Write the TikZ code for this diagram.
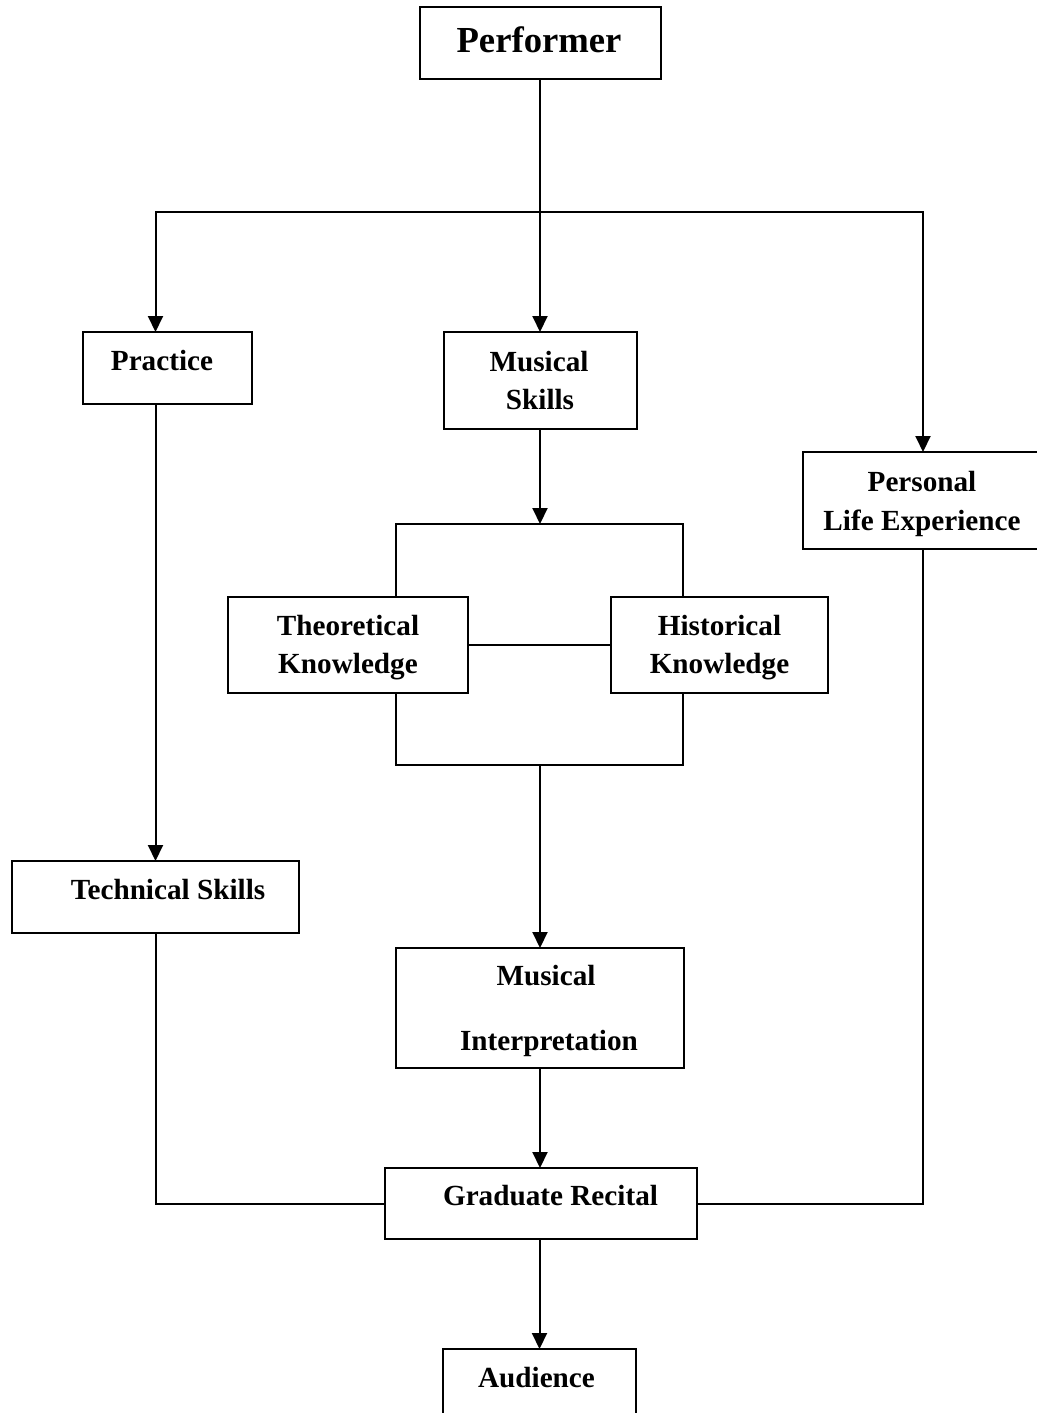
\documentclass[tikz,border=0pt]{standalone}
\usepackage{fontspec}
\setmainfont{Liberation Serif}
\usetikzlibrary{arrows.meta}
\begin{document}
\begin{tikzpicture}[x=0.75pt,y=-0.75pt,
  box/.style={draw, line width=1.5pt, inner sep=0pt, outer sep=0pt},
  lbl/.style={inner sep=0pt, anchor=base, font=\fontsize{21.9}{26}\selectfont\bfseries},
  big/.style={inner sep=0pt, anchor=base, font=\fontsize{27.5}{32}\selectfont\bfseries},
  conn/.style={line width=1.5pt},
  arr/.style={line width=1.5pt, -{Triangle[width=11.25pt,length=12pt]}}]
\useasboundingbox (0,0) rectangle (1037,1413);
\clip (0,0) rectangle (1037,1413);
\fill[white] (0,0) rectangle (1037,1413);

% boxes
\node[box, minimum width=180.75pt, minimum height=54pt] (perf) at (540,43) {};
\node[box, minimum width=126.75pt, minimum height=54pt] (prac) at (167.5,368) {};
\node[box, minimum width=144.75pt, minimum height=72.75pt] (mskill) at (540,380.5) {};
\node[box, minimum width=180pt, minimum height=72.75pt] (pers) at (923,500.5) {};
\node[box, minimum width=180pt, minimum height=72pt] (theo) at (348,645) {};
\node[box, minimum width=162.75pt, minimum height=72pt] (hist) at (719.5,645) {};
\node[box, minimum width=215.25pt, minimum height=54pt] (tech) at (155.5,897) {};
\node[box, minimum width=216pt, minimum height=90pt] (interp) at (540,1008) {};
\node[box, minimum width=234pt, minimum height=53.25pt] (grad) at (541,1203.5) {};
\node[box, minimum width=144.75pt, minimum height=60.75pt] (aud) at (539.5,1389.5) {};

% texts
\node[big] (perf-t) at (539,53) {Performer};
\node[lbl] (prac-t) at (162,370) {Practice};
\node[lbl] (mskill-t1) at (539,371) {Musical};
\node[lbl] (mskill-t2) at (540,409) {Skills};
\node[lbl] (pers-t1) at (922,491) {Personal};
\node[lbl] (pers-t2) at (922,530) {Life Experience};
\node[lbl] (theo-t1) at (348,635) {Theoretical};
\node[lbl] (theo-t2) at (348,673) {Knowledge};
\node[lbl] (hist-t1) at (719.5,635) {Historical};
\node[lbl] (hist-t2) at (719.5,673) {Knowledge};
\node[lbl] (tech-t) at (168,899) {Technical Skills};
\node[lbl] (interp-t1) at (546,985) {Musical};
\node[lbl] (interp-t2) at (549,1050) {Interpretation};
\node[lbl] (grad-t) at (550.5,1205) {Graduate Recital};
\node[lbl] (aud-t) at (536.5,1387) {Audience};

% coordinates
\coordinate (hub) at (540,212);
\coordinate (btl) at (396,524);
\coordinate (btr) at (683,524);
\coordinate (btm) at (540,524);
\coordinate (bbl) at (396,765);
\coordinate (bbr) at (683,765);
\coordinate (bbm) at (540,765);

% connectors
\draw[arr] (perf.south) -- (mskill.north);
\draw[conn, line cap=rect] (tech.north |- hub) -- (pers.north |- hub);
\draw[arr] (tech.north |- hub) -- (tech.north |- prac.north);
\draw[arr] (pers.north |- hub) -- (pers.north);
\draw[arr] (tech.north |- prac.south) -- (tech.north);
\draw[arr] (mskill.south) -- (btm);
\draw[conn] (theo.north -| btl) -- (btl) -- (btr) -- (hist.north -| btr);
\draw[conn] (theo.south -| bbl) -- (bbl) -- (bbr) -- (hist.south -| bbr);
\draw[conn] (theo.east) -- (hist.west);
\draw[arr] (bbm) -- (interp.north);
\draw[arr] (interp.south) -- (interp.south |- grad.north);
\draw[conn] (tech.south) -- (tech.south |- grad.west) -- (grad.west);
\draw[conn] (pers.south) -- (pers.south |- grad.east) -- (grad.east);
\draw[arr] (grad.south -| aud.north) -- (aud.north);
\end{tikzpicture}
\end{document}
